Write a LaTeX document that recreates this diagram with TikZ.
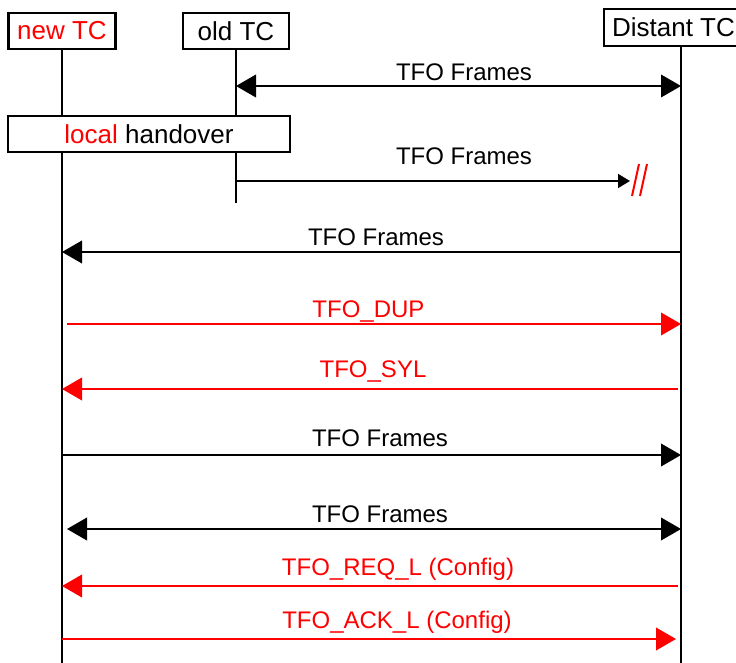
\documentclass[tikz,border=0pt]{standalone}
\usepackage{fontspec}
\setmainfont{Liberation Sans}
\usetikzlibrary{arrows.meta}

\begin{document}
\begin{tikzpicture}[x=0.75pt,y=0.75pt,yscale=-1,xscale=1,
  tcbox/.style={draw,line width=1.6pt,inner sep=0pt,minimum height=27pt,font=\fontsize{19.5}{22}\selectfont},
  life/.style={line width=1.1pt},
  msg/.style={line width=1.2pt,-{Triangle[length=15pt,width=17pt]}},
  msgb/.style={line width=1.2pt,{Triangle[length=15pt,width=17pt]}-{Triangle[length=15pt,width=17pt]}},
  lbl/.style={anchor=base,inner sep=0pt,font=\fontsize{18}{20}\selectfont}]
\clip (0,0) rectangle (736,663);

%Boxes
\node[tcbox,minimum width=80.25pt] (newtc) at (62,31) {\textcolor{red}{new TC}};
\node[tcbox,minimum width=79.5pt] (oldtc) at (236,31) {old TC};
\node[tcbox,minimum height=27.75pt,inner xsep=6pt,anchor=west] (dist) at (603,27.5) {Distant TC};
\node[tcbox,minimum width=211.5pt] (local) at (149,134) {\textcolor{red}{local} handover};

%Lifelines
\coordinate (nbot) at (62,670);
\coordinate (oend) at (236,203);
\coordinate (dbot) at (681,670);
\draw[life] (newtc.south) -- (newtc.south |- local.north);
\draw[life] (newtc.south |- local.south) -- (newtc.south |- nbot);
\draw[life] (oldtc.south) -- (oldtc.south |- local.north);
\draw[life] (oldtc.south |- local.south) -- (oldtc.south |- oend);
\draw[life] (dist.south -| dbot) -- (dbot);

%TFO Frames old TC <-> Distant TC
\coordinate (a1) at (236,86); \coordinate (b1) at (681,86);
\draw[msgb] (a1) -- (b1);
\node[lbl] (t1) at (464,81) {TFO Frames};

%TFO Frames old TC -> break
\coordinate (a2) at (236,181); \coordinate (b2) at (630,181);
\draw[line width=1.2pt,-{Triangle[length=9pt,width=10.5pt]}] (a2) -- (b2);
\node[lbl] (t2) at (464,165) {TFO Frames};
\draw[red,line width=1.5pt] (639,164) -- (632,196);
\draw[red,line width=1.5pt] (647,164) -- (640,196);

%TFO Frames Distant TC -> new TC
\coordinate (a3) at (62,252); \coordinate (b3) at (681,252);
\draw[msg] (b3) -- (a3);
\node[lbl] (t3) at (376,246) {TFO Frames};

%TFO_DUP
\coordinate (a4) at (67,324); \coordinate (b4) at (681,324);
\draw[msg,red] (a4) -- (b4);
\node[lbl,red] (t4) at (368.5,317) {TFO\_DUP};

%TFO_SYL
\coordinate (a5) at (62,389); \coordinate (b5) at (678,389);
\draw[msg,red] (b5) -- (a5);
\node[lbl,red] (t5) at (373,377) {TFO\_SYL};

%TFO Frames new TC -> Distant TC
\coordinate (a6) at (62,455); \coordinate (b6) at (681,455);
\draw[msg] (a6) -- (b6);
\node[lbl] (t6) at (380,446) {TFO Frames};

%TFO Frames new TC <-> Distant TC
\coordinate (a7) at (67,529); \coordinate (b7) at (681,529);
\draw[msgb] (a7) -- (b7);
\node[lbl] (t7) at (380,522) {TFO Frames};

%TFO_REQ_L
\coordinate (a8) at (62,586); \coordinate (b8) at (678,586);
\draw[msg,red] (b8) -- (a8);
\node[lbl,red] (t8) at (398,575) {TFO\_REQ\_L (Config)};

%TFO_ACK_L
\coordinate (a9) at (62,639); \coordinate (b9) at (676,639);
\draw[msg,red] (a9) -- (b9);
\node[lbl,red] (t9) at (397,628) {TFO\_ACK\_L (Config)};

\end{tikzpicture}
\end{document}
